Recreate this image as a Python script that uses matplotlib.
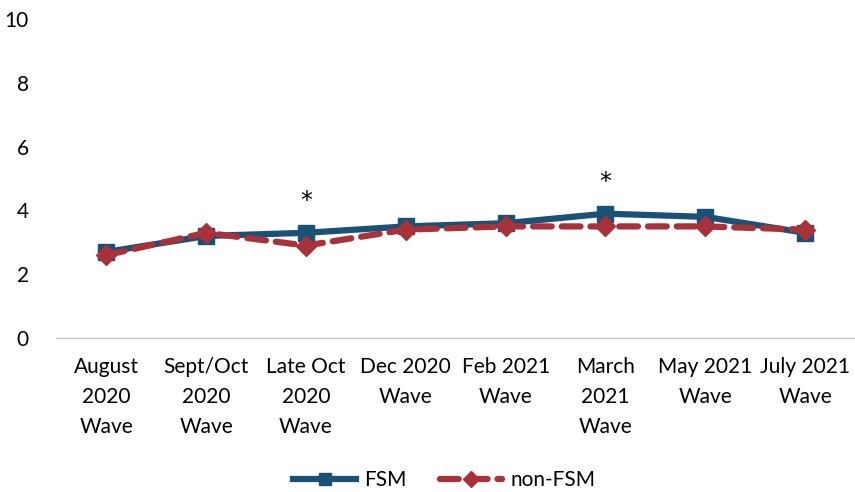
import matplotlib.pyplot as plt

plt.rcParams['font.family'] = ['Lato', 'DejaVu Sans']

categories = ["August\n2020\nWave", "Sept/Oct\n2020\nWave", "Late Oct\n2020\nWave",
              "Dec 2020\nWave", "Feb 2021\nWave", "March\n2021\nWave",
              "May 2021\nWave", "July 2021\nWave"]
fsm = [2.7, 3.2, 3.3, 3.5, 3.6, 3.9, 3.8, 3.3]
non_fsm = [2.6, 3.3, 2.9, 3.4, 3.5, 3.5, 3.5, 3.4]
stars = [2, 5]  # waves with significant difference

fig = plt.figure(figsize=(8.55, 4.92), dpi=100)
ax = fig.add_axes([0.066, 0.313, 0.934, 0.648])

x = list(range(len(categories)))
ax.plot(x, fsm, color='#1a5177', lw=4.5, marker='s', markersize=11, label='FSM', zorder=3)
ax.plot(x, non_fsm, color='#a8313a', lw=4.5, ls=(0, (3, 1.6)), marker='D', markersize=10,
        dash_capstyle='round', label='non-FSM', zorder=4)

for i in stars:
    ax.annotate('*', (i, max(fsm[i], non_fsm[i])), xytext=(0, 14), textcoords='offset points',
                ha='center', va='bottom', fontsize=17, family='DejaVu Sans')

ax.set_xlim(-0.5, 7.5)
ax.set_ylim(0, 10)
ax.set_yticks([0, 2, 4, 6, 8, 10])
ax.set_xticks(x)
ax.set_xticklabels(categories, fontsize=15, linespacing=1.62)
ax.tick_params(axis='y', labelsize=15, length=0, pad=20)
ax.tick_params(axis='x', length=0, pad=14)
for s in ['top', 'right', 'left']:
    ax.spines[s].set_visible(False)
ax.spines['bottom'].set_color('#bfbfbf')

fig.legend(loc='lower center', bbox_to_anchor=(0.52, -0.035), ncol=2, frameon=False,
           fontsize=15, handlelength=3.0, handletextpad=0.4, columnspacing=1.6,
           markerscale=0.8)

fig.savefig('out.png', dpi=100)
